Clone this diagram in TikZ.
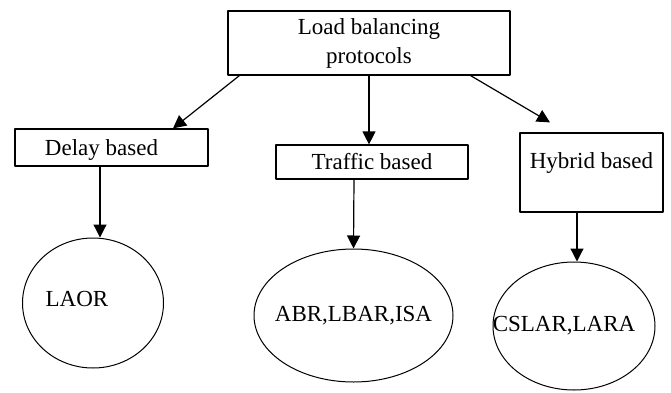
\documentclass[tikz,border=0pt]{standalone}
\usepackage{fontspec}
\setmainfont{Liberation Serif}
\usetikzlibrary{arrows.meta,shapes.geometric}
\begin{document}
\begin{tikzpicture}[x=0.5pt,y=-0.5pt,>={Triangle[width=6.5pt,length=6.5pt]},line join=round,font=\fontsize{11.5}{14.5}\selectfont,
	box/.style={draw,line width=0.6pt,inner sep=0pt,align=center},
	oval/.style={draw,ellipse,line width=0.5pt,inner sep=0pt},
	link/.style={->,line width=0.6pt}]
				\useasboundingbox (0,0) rectangle (671,392);
				\node[box,minimum width=141pt,minimum height=32pt] (lb) at (369,43) {Load balancing\\protocols};
				\node[box,minimum width=96.5pt,minimum height=18.5pt,text height=10pt] (delay) at (111.5,147.5) {Delay based\hspace{10pt}};
				\node[box,minimum width=96pt,minimum height=17pt] (traffic) at (372,162) {Traffic based};
				\node[box,minimum width=71.5pt,minimum height=39.5pt,text depth=12pt] (hybrid) at (591.5,172.5) {Hybrid based};
				\node[oval,minimum width=70.5pt,minimum height=65pt,text depth=4pt] (laor) at (93,303) {\makebox[0pt]{LAOR\hspace{16pt}}};
				\node[oval,minimum width=99.5pt,minimum height=66.5pt] (abr) at (353.5,315.5) {\makebox[0pt]{ABR,LBAR,ISA}};
				\node[oval,minimum width=81pt,minimum height=64pt] (cslar) at (574,326) {\makebox[0pt]{CSLAR,LARA\hspace{10pt}}};
				\draw[link] ([shift={(12,0)}]lb.south west)--([shift={(61.5,0)}]delay.north);
				\draw[link] (lb.south)--(lb.south |- traffic.north);
				\draw[link] ([shift={(-40,0)}]lb.south east)--([shift={(-41.5,-10)}]hybrid.north);
				\draw[link] ([shift={(-11.5,0)}]delay.south)--([shift={(7,0)}]laor.north);
				\draw[link] ([shift={(-18,0)}]traffic.south)--(abr.north);
				\draw[link] ([shift={(-14.5,0)}]hybrid.south)--([shift={(3,0)}]cslar.north);
			\end{tikzpicture}
\end{document}
